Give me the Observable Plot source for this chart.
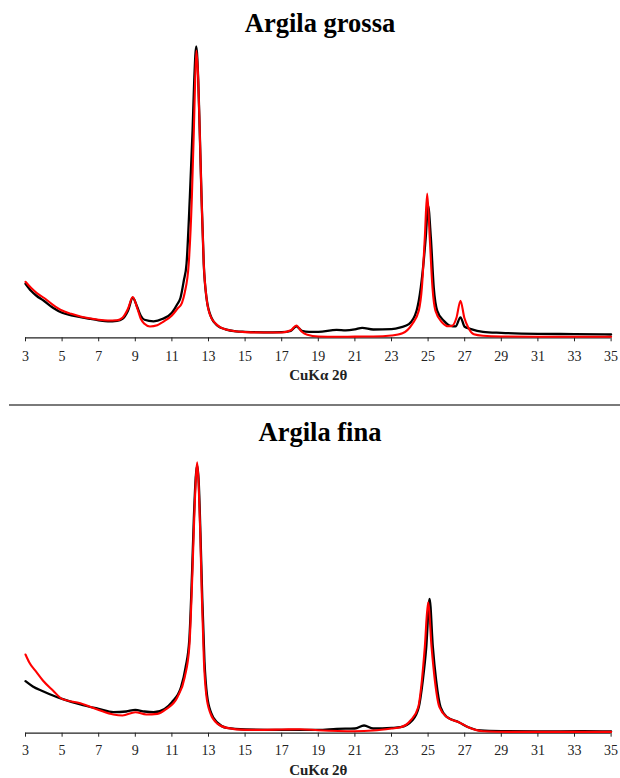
<!DOCTYPE html>
<html>
<head>
<meta charset="utf-8">
<script src="https://cdn.jsdelivr.net/npm/d3@7"></script>
<script src="https://cdn.jsdelivr.net/npm/@observablehq/plot@0.6"></script>
<style>
  html, body { margin: 0; padding: 0; background: #fff; }
  #wrap { position: relative; width: 620px; height: 778px; overflow: hidden; }
  .title { position: absolute; left: 10px; width: 620px; text-align: center;
           font-family: "Liberation Serif", "Times New Roman", serif; font-weight: bold;
           font-size: 26.5px; line-height: 26px; color: #000; }
  .panel { position: absolute; left: 0; }
  #sep { position: absolute; left: 9px; width: 611px; top: 404px; height: 2px; background: #7a7a7a; }
</style>
</head>
<body>
<div id="wrap">
  <div class="title" style="top:10px">Argila grossa</div>
  <div class="panel" id="p1" style="top:36px"></div>
  <div id="sep"></div>
  <div class="title" style="top:419px">Argila fina</div>
  <div class="panel" id="p2" style="top:450px"></div>
</div>
<script>
// ---- Data (2θ in degrees, intensity in relative units) ----
const xTicks = [3,5,7,9,11,13,15,17,19,21,23,25,27,29,31,33,35];
const axisTitle = "CuKα 2θ";
const panelTitles = ["Argila grossa", "Argila fina"];

// Argila grossa — black trace
const grossaBlackTheta = [3,3.3,3.6,4,4.5,5,5.5,6,6.5,7,7.5,8,8.3,8.6,8.86,9.1,9.3,9.5,10,10.5,11,11.3,11.47,11.65,11.8,11.98,12.13,12.22,12.33,12.44,12.52,12.62,12.74,12.89,13.16,13.5,13.93,14.5,15,16,17,17.5,17.8,18.1,18.5,19,20,20.5,21,21.4,22,23,23.5,23.95,24.37,24.6,24.87,25.0,25.15,25.31,25.5,25.86,26.22,26.5,26.77,27.0,27.3,28,29,31,33,35];
const grossaBlackI     = [54,47,42,37,30,25,22.5,20.7,19,17.5,16.5,17,19,27,40,31,22,18,16.5,19,25,33.7,40,57,74,140,207,257,291,257,207,140,74,40,20,12,8.5,6.5,6,5.5,5.7,7,11.5,7,6,6,8,7.5,8.5,10,8.3,8.7,10.5,13.7,27,50,100,132,100,50,27,17,12,11.5,20.5,11,9,6,5,4,3.7,3.3];

// Argila grossa — red trace
const grossaRedTheta = [3,3.3,3.6,4,4.5,5,5.5,6,6.5,7,7.5,8,8.3,8.6,8.86,9.1,9.3,9.5,9.8,10.2,10.5,11,11.3,11.55,11.7,11.92,12.09,12.2,12.27,12.34,12.44,12.52,12.62,12.74,12.89,13.1,13.4,14,15,16,17,17.5,17.8,18.1,18.4,19,20,21,22,23,23.6,24.13,24.49,24.66,24.82,24.95,25.09,25.24,25.4,25.77,26.1,26.32,26.55,26.77,26.98,27.2,27.5,28,29,31,35];
const grossaRedI     = [56,50,45,40,33,27.3,24,21.3,19.5,18,17.3,17.5,20,29,40.7,30,19,14,11.3,12.5,15.7,22.3,29,35,45,74,140,207,257,287,257,207,140,74,40,22,14,8,5.7,5.3,5.3,7.5,12.3,6,3,1.3,1,1.2,1.3,2.3,4.5,13.7,27,50,100,144,100,50,27,15.3,11.5,12,20,37,20,10,3.5,2,1.3,1.1,1];

// Argila fina — black trace
const finaBlackTheta = [3,3.4,3.95,4.5,5,6,7,7.8,8.5,9,9.5,10,10.6,11,11.5,11.75,11.95,12.1,12.2,12.3,12.38,12.47,12.56,12.66,12.78,12.92,13.15,13.5,14,15,17,19,20,21,21.5,22,23,23.49,24.13,24.49,24.71,24.9,25.08,25.26,25.44,25.68,26.04,26.68,27.2,27.86,29,31,33.5,35];
const finaBlackI     = [52,46.7,42,37.7,34.3,28.7,24.3,21,21.7,23.3,21.7,21,24.3,31,46,66,93,160,215,255,268,250,200,135,72,38,20,10.3,5.3,3.7,3.3,3.3,4.3,4.7,7.7,4.7,5.3,6,12.7,26,52.7,86,134.4,86,52.7,26,16,11,6,2.7,2,1.7,2,1.7];

// Argila fina — red trace
const finaRedTheta = [3,3.2,3.6,3.95,4.5,5,6,7,7.8,8.3,9,9.6,10.2,10.7,11.3,11.7,11.95,12.12,12.22,12.31,12.38,12.46,12.55,12.64,12.75,12.88,13.1,13.5,14,15,17,18,19,21,22,23,23.5,24.04,24.46,24.66,24.82,25.0,25.19,25.37,25.62,26.04,26.68,27.2,28,30,35];
const finaRedI     = [78.7,71,61,52.7,42.7,34.3,30,23.3,18.7,17.7,21,18.7,19.3,24.3,36,56,86,160,215,255,271,250,200,135,72,38,20,9.3,5.3,3.3,3.7,4,3,2,2.7,4.7,6,12.7,26,52.7,86,131,86,52.7,26,16,11,6,2,1.3,1.3];

const toRows = (t, v) => t.map((x, i) => ({t: x, v: v[i]}));

function panel({black, red, yMax, height, marginTop, marginBottom, labelDy, tickPadding}) {
  return Plot.plot({
    width: 620,
    height,
    marginLeft: 25,
    marginRight: 9.4,
    marginTop,
    marginBottom,
    style: {fontFamily: '"Liberation Serif", "Times New Roman", serif', fontSize: "14px", background: "transparent", color: "#222"},
    x: {domain: [3, 35]},
    y: {domain: [0, yMax], axis: null},
    marks: [
      Plot.axisX({ticks: xTicks, tickSize: 4, tickPadding, tickFormat: d => String(d), label: null, fontSize: 14, stroke: "#222"}),
      Plot.ruleY([0], {stroke: "#222", strokeWidth: 1.3}),
      Plot.line(black, {x: "t", y: "v", stroke: "#000", strokeWidth: 2.3, curve: "monotone-x"}),
      Plot.line(red, {x: "t", y: "v", stroke: "#ff0000", strokeWidth: 2.1, curve: "monotone-x"}),
      Plot.text([axisTitle], {text: d => d, frameAnchor: "bottom", dy: labelDy, fontWeight: "bold", fontSize: 15, fill: "#222"})
    ]
  });
}

document.getElementById("p1").append(panel({
  black: toRows(grossaBlackTheta, grossaBlackI),
  red: toRows(grossaRedTheta, grossaRedI),
  yMax: 291, height: 355, marginTop: 10, marginBottom: 53.7, labelDy: 42.5, tickPadding: 8.8
}));
document.getElementById("p2").append(panel({
  black: toRows(finaBlackTheta, finaBlackI),
  red: toRows(finaRedTheta, finaRedI),
  yMax: 271, height: 328, marginTop: 11.7, marginBottom: 45.3, labelDy: 41.5, tickPadding: 7.4
}));
</script>
</body>
</html>
